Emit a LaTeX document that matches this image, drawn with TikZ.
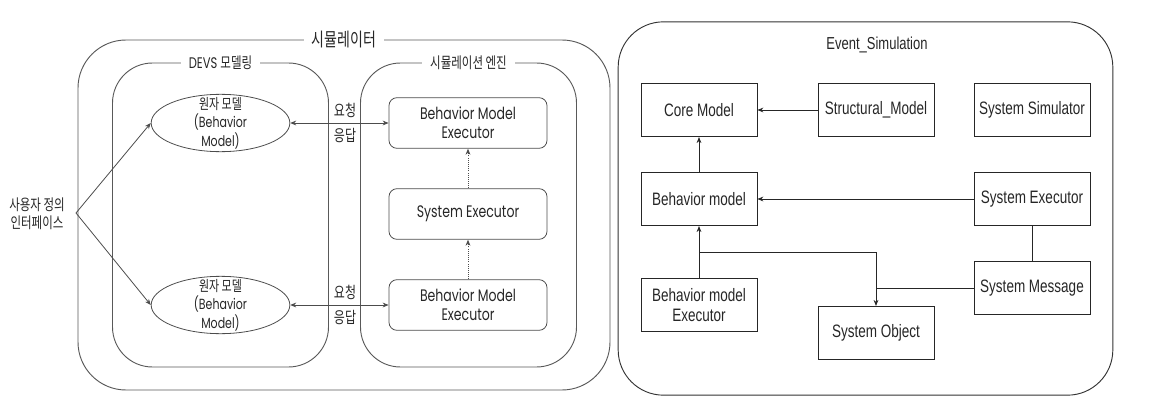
\documentclass[tikz,border=0pt]{standalone}
\usepackage{fontspec}
\setmainfont[FakeStretch=0.75]{Poppins}
\newfontfamily\kr[FakeStretch=0.75]{Noto Sans CJK KR}
\newfontfamily\evfont[FakeStretch=0.75]{Liberation Sans}
\usetikzlibrary{shapes.geometric, arrows.meta}
\tikzset{
  wire/.style={draw=black!70, line width=0.6pt},
  arrowto/.style={-{Stealth[length=4.5pt, width=3.6pt]}},
  arrowboth/.style={{Stealth[length=4.5pt, width=3.6pt]}-{Stealth[length=4.5pt, width=3.6pt]}},
  dotwire/.style={wire, densely dotted, arrowto},
  simframe/.style={draw=black!65, line width=0.7pt, rounded corners=36pt,
                   minimum width=399pt, minimum height=262.5pt},
  subframe/.style={draw=black!65, line width=0.7pt, rounded corners=30pt,
                   minimum width=162pt, minimum height=228pt},
  evframe/.style={draw=black!80, line width=0.7pt, rounded corners=34pt,
                  minimum width=371pt, minimum height=280pt},
  frametitle/.style={fill=white, inner xsep=6pt, inner ysep=1pt, text=black!85},
  atom/.style={ellipse, draw=black!70, line width=0.6pt, minimum width=104pt,
               minimum height=43pt, inner sep=0pt},
  atomtext/.style={align=center, font=\fontsize{11}{14}\selectfont, text=black!85},
  engbox/.style={rectangle, rounded corners=6pt, draw=black!70, line width=0.6pt,
                 minimum width=118.5pt, minimum height=38pt, align=center,
                 font=\fontsize{12.5}{14}\selectfont, text=black!85},
  evbox/.style={rectangle, draw=black!85, line width=0.6pt, minimum width=87pt,
                minimum height=40pt, align=center,
                font=\evfont\fontsize{13.5}{15}\selectfont, text=black!85},
  reqlabel/.style={font=\kr\fontsize{12}{13}\selectfont, text=black!85, inner sep=1pt}
}
\begin{document}
\begin{tikzpicture}[x=0.75pt, y=-0.75pt]
  \useasboundingbox (0,0) rectangle (1160,410);

  % simulator side
  \node[simframe] (sim) at (344,215) {};
  \node[frametitle, font=\kr\fontsize{14}{16}\selectfont] (simtitle) at (sim.north) {시뮬레이터};
  \node[subframe] (devs) at (220.5,215) {};
  \node[frametitle, font=\fontsize{11.5}{13}\selectfont] (devstitle) at (devs.north) {DEVS {\kr 모델링}};
  \node[subframe] (engine) at (468.5,215) {};
  \node[frametitle, font=\kr\fontsize{11.5}{13}\selectfont] (enginetitle) at (engine.north) {시뮬레이션 엔진};

  \node[align=center, font=\kr\fontsize{11.5}{13.5}\selectfont, text=black!85]
    (ui) at (37,214) {사용자 정의\\인터페이스};
  \coordinate (fork) at (76,213);

  \foreach \i/\y in {1/123, 2/305} {
    \node[atom, label={[atomtext]center:{{\kr 원자 모델}\\(Behavior\\Model)}}]
      (atom\i) at (220.5,\y) {};
    \node[engbox] (bme\i) at (468,\y) {Behavior Model\\Executor};
    \draw[wire, arrowboth] (atom\i) -- (bme\i);
    \node[reqlabel] (req\i) at (345,\y-13) {요청};
    \node[reqlabel] (resp\i) at (345,\y+13) {응답};
    \draw[wire, arrowto] (fork) -- (atom\i.west);
  }
  \node[engbox] (sysexec) at (468,214) {System Executor};
  \draw[dotwire] (sysexec) -- (bme1);
  \draw[dotwire] (bme2) -- (sysexec);

  % event simulation side
  \node[evframe] (evsim) at (865.5,208.5) {};
  \node[font=\evfont\fontsize{13}{14}\selectfont, text=black!85] (evtitle) at (877,45) {Event\_Simulation};

  \node[evbox] (evcore) at (699,110) {Core Model};
  \node[evbox] (evstruct) at (876,110) {Structural\_Model};
  \node[evbox] (evsimul) at (1032,110) {System Simulator};
  \node[evbox] (evbehav) at (699,199) {Behavior model};
  \node[evbox] (evexec) at (1032,199) {System Executor};
  \node[evbox] (evbexec) at (699,305) {Behavior model\\Executor};
  \node[evbox] (evobject) at (876,333) {System Object};
  \node[evbox] (evmsg) at (1032,288) {System Message};

  \draw[wire, draw=black!85, arrowto] (evstruct) -- (evcore);
  \draw[wire, draw=black!85, arrowto] (evbehav) -- (evcore);
  \draw[wire, draw=black!85, arrowto] (evexec) -- (evbehav);
  \draw[wire, draw=black!85, arrowto] (evbexec) -- (evbehav);
  \coordinate (branch) at (699,252);
  \draw[wire, draw=black!85, arrowto] (branch) -| (evobject);
  \draw[wire, draw=black!85] (evmsg) -- (evmsg -| evobject);
  \draw[wire, draw=black!85] (evexec) -- (evmsg);
\end{tikzpicture}
\end{document}
